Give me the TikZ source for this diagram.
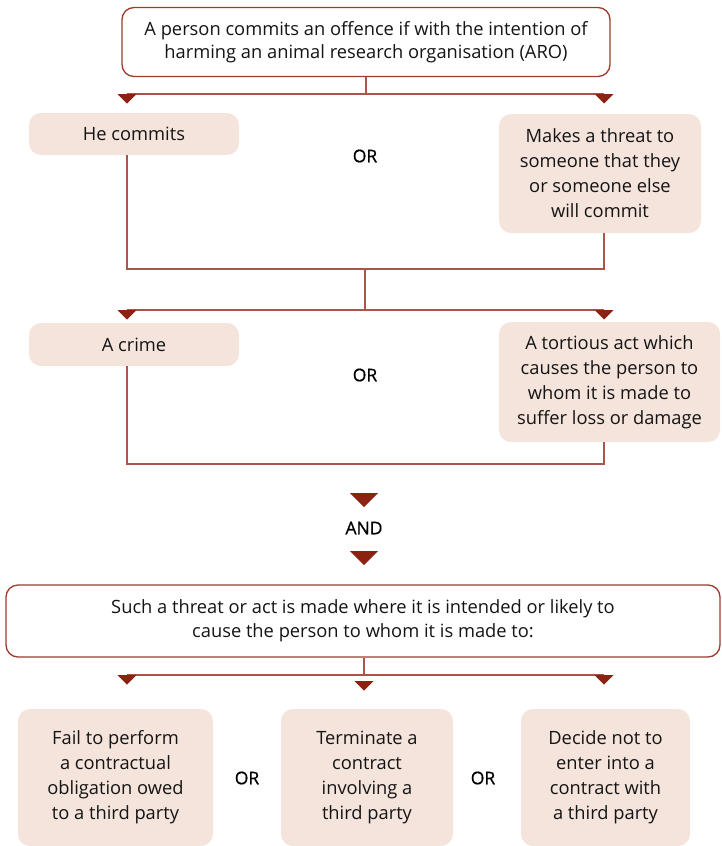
\documentclass[tikz,border=0pt]{standalone}
\usepackage{fontspec}
\setmainfont{Open Sans}
\newfontfamily\orfont[FakeBold=0.7]{Open Sans}
\definecolor{bord}{HTML}{9E3B2D}
\definecolor{conncol}{HTML}{A9564A}
\definecolor{tricol}{HTML}{8C2312}
\definecolor{boxfill}{HTML}{F4E4DC}
\begin{document}
\begin{tikzpicture}[x=1pt,y=-1pt,
  every node/.style={font=\fontsize{18.3}{25}\selectfont, text=black!92},
  outbox/.style={draw=bord, line width=1.3pt, rounded corners=12pt, fill=white, align=center, inner sep=0pt},
  fillbox/.style={fill=boxfill, rounded corners=12pt, align=center, inner sep=0pt},
  orlbl/.style={font=\orfont\fontsize{17.5}{20}\selectfont, text=black},
  conn/.style={draw=conncol, line width=1.3pt},
  smalltri/.pic={\fill[tricol] (-9.5,0) -- (9.5,0) -- (0,9.5) -- cycle;},
  bigtri/.pic={\fill[tricol] (-14,0) -- (14,0) -- (0,14) -- cycle;}
]
\useasboundingbox (0,0) rectangle (721,846);

% top box
\node[outbox, minimum width=488pt, minimum height=69pt, font=\fontsize{18.3}{23}\selectfont] (top) at (366,42) {A person commits an offence if with the intention of\\harming an animal research organisation (ARO)};

% row 1
\node[fillbox, minimum width=210pt, minimum height=42pt] (hec) at (134,134) {He commits};
\node[fillbox, minimum width=202pt, minimum height=119pt] (threat) at (600,173.5) {Makes a threat to\\someone that they\\or someone else\\will commit};
\node[orlbl] (or1) at (365,156) {OR};

% row 2
\node[fillbox, minimum width=210pt, minimum height=43pt] (crime) at (134,344.5) {A crime};
\node[fillbox, minimum width=221pt, minimum height=120pt] (tort) at (609.5,382) {A tortious act which\\causes the person to\\whom it is made to\\suffer loss or damage};
\node[orlbl] (or2) at (365,375) {OR};

% AND
\node[orlbl] (and) at (364,528) {AND};

% big box
\node[outbox, minimum width=714pt, minimum height=72pt, font=\fontsize{18.3}{24}\selectfont] (big) at (363,621) {Such a threat or act is made where it is intended or likely to\\cause the person to whom it is made to:};

% bottom boxes
\node[fillbox, minimum width=195pt, minimum height=137pt] (b1) at (115.5,777.5) {Fail to perform\\a contractual\\obligation owed\\to a third party};
\node[fillbox, minimum width=172pt, minimum height=137pt] (b2) at (367,777.5) {Terminate a\\contract\\involving a\\third party};
\node[fillbox, minimum width=169pt, minimum height=137pt] (b3) at (605.5,777.5) {Decide not to\\enter into a\\contract with\\a third party};
\node[orlbl] (or3) at (247,778) {OR};
\node[orlbl] (or4) at (483,778) {OR};

% junction coordinates
\coordinate (t0) at (366,94);
\coordinate (tL) at (127,94);
\coordinate (tR) at (604,94);
\coordinate (m0) at (365,269);
\coordinate (mL) at (127,269);
\coordinate (mR) at (604,269);
\coordinate (n0) at (365,310);
\coordinate (nL) at (127,310);
\coordinate (nR) at (604,310);
\coordinate (pL) at (127,464);
\coordinate (pR) at (604,464);
\coordinate (q0) at (364,675);
\coordinate (qL) at (127,675);
\coordinate (qR) at (604,675);
\coordinate (a1) at (364,493);
\coordinate (a2) at (364,551);
\coordinate (qM) at (364,681);

% connectors
\draw[conn] (top.south) -- (t0);
\draw[conn] (tL) -- (tR);
\draw[conn] (hec.south -| mL) -- (mL) -- (mR) -- (threat.south -| mR);
\draw[conn] (m0) -- (n0);
\draw[conn] (nL) -- (nR);
\draw[conn] (crime.south -| pL) -- (pL) -- (pR) -- (tort.south -| pR);
\draw[conn] (big.south -| q0) -- (q0);
\draw[conn] (qL) -- (qR);

% triangles
\pic at (tL) {smalltri};
\pic at (tR) {smalltri};
\pic at (nL) {smalltri};
\pic at (nR) {smalltri};
\pic at (qL) {smalltri};
\pic at (qR) {smalltri};
\pic at (qM) {smalltri};
\pic at (a1) {bigtri};
\pic at (a2) {bigtri};
\end{tikzpicture}
\end{document}
